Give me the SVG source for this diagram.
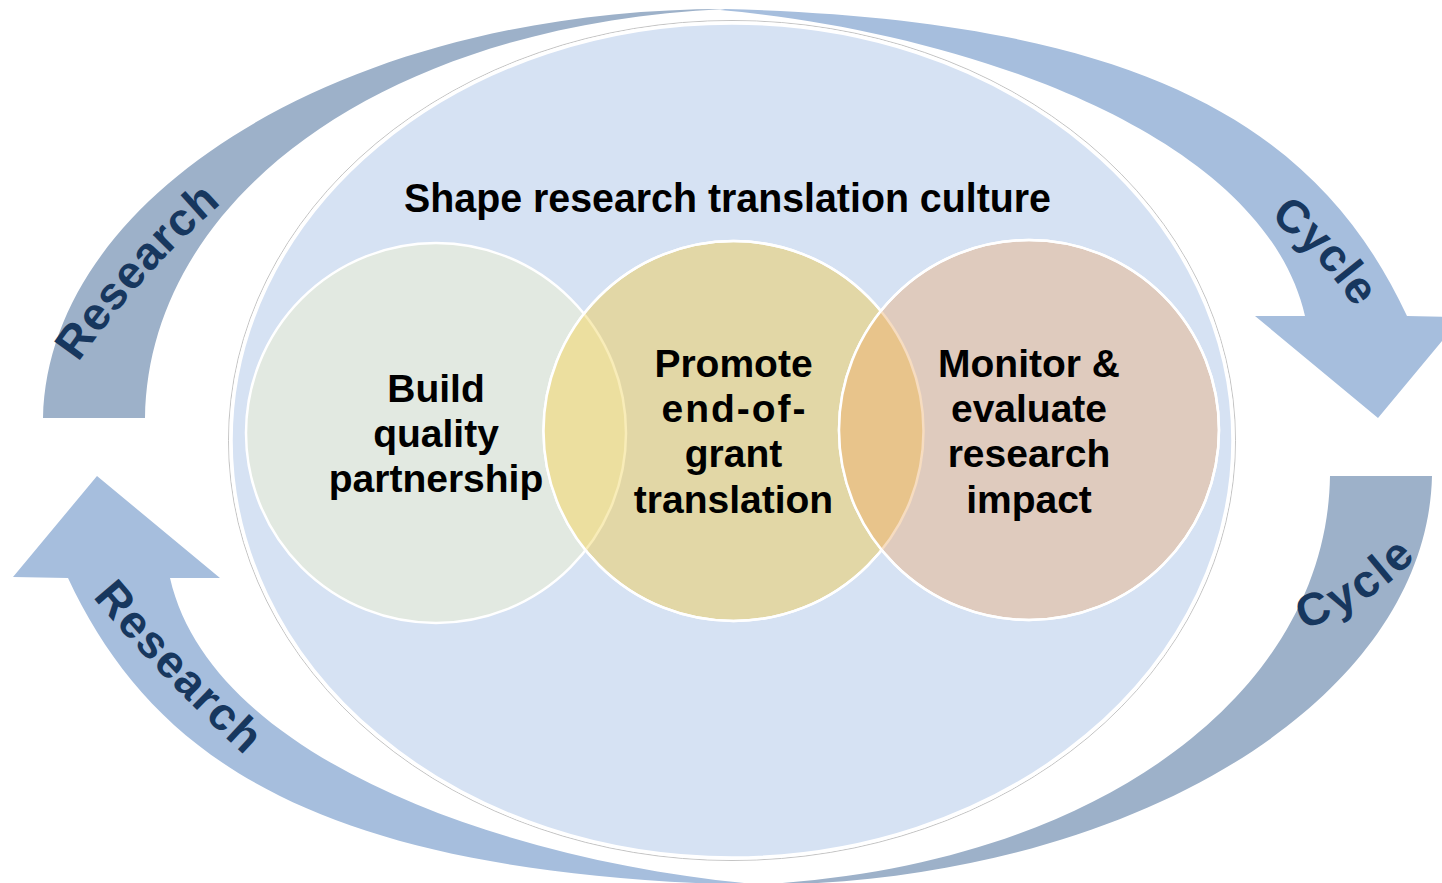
<svg xmlns="http://www.w3.org/2000/svg" width="1442" height="883" viewBox="0 0 1442 883">
<style>
.dark{fill:#9db1c9}
.light{fill:#a6bedd}
.lbl{font-family:"Liberation Sans",Arial,sans-serif;font-weight:bold;font-size:46px;fill:#17375e;dominant-baseline:central}
.node{font-family:"Liberation Sans",Arial,sans-serif;font-weight:bold;font-size:39px;fill:#000;text-anchor:middle}
.title{font-family:"Liberation Sans",Arial,sans-serif;font-weight:bold;font-size:41px;fill:#000;text-anchor:middle}
.ring{fill:none;stroke:#fff;stroke-width:2.5}
</style>
<defs>
<clipPath id="clipL"><circle cx="436" cy="433" r="190"/></clipPath>
<clipPath id="clipM"><circle cx="733.5" cy="431" r="190"/></clipPath>
<clipPath id="clipR"><circle cx="1029" cy="430" r="190"/></clipPath>
<path id="tpTL" d="M23,420 Q117,256 275,140"/>
<path id="tpTR" d="M1249,188 Q1338,236 1387,332"/>
<path id="tpBL" d="M60,530 Q165,670 320,800"/>
<path id="tpBR" d="M1257,625 Q1370,603 1427,517"/>
</defs>
<rect width="1442" height="883" fill="#fff"/>

<g id="connectors">
  <g id="arrow-top">
    <path class="dark" d="M43,418 C48,192 349,9 725,9 C380,25 148,200 145,418 Z"/>
    <path class="light" d="M720,10 C950,30 1262,128 1305,316 L1255,316 L1378,418 L1462,317 L1407,316 C1320,130 1150,20 725,9 Z"/>
  </g>
  <g id="arrow-bottom" transform="rotate(180 737.5 447)">
    <path class="dark" d="M43,418 C48,192 349,9 725,9 C380,25 148,200 145,418 Z"/>
    <path class="light" d="M720,10 C950,30 1262,128 1305,316 L1255,316 L1378,418 L1462,317 L1407,316 C1320,130 1150,20 725,9 Z"/>
  </g>
  <text class="lbl"><textPath href="#tpTL" startOffset="188" text-anchor="middle" textLength="218" lengthAdjust="spacing">Research</textPath></text>
  <text class="lbl"><textPath href="#tpTR" startOffset="100" text-anchor="middle" textLength="129" lengthAdjust="spacing">Cycle</textPath></text>
  <text class="lbl"><textPath href="#tpBL" startOffset="181" text-anchor="middle" textLength="218" lengthAdjust="spacing">Research</textPath></text>
  <text class="lbl"><textPath href="#tpBR" startOffset="106" text-anchor="middle" textLength="129" lengthAdjust="spacing">Cycle</textPath></text>
</g>

<g id="culture">
  <ellipse cx="732" cy="440.5" rx="503.5" ry="420" fill="none" stroke="#c4c4c4" stroke-width="1"/>
  <ellipse cx="732" cy="440.5" rx="501" ry="417.5" fill="#d6e2f3" stroke="#fff" stroke-width="3.5"/>
  <text class="title" x="727.5" y="212" textLength="647" lengthAdjust="spacingAndGlyphs">Shape research translation culture</text>
</g>

<g id="partnership">
  <circle cx="436" cy="433" r="190" fill="#e2e9e1" class="ring" style="fill:#e2e9e1"/>
</g>

<g id="end-of-grant">
  <circle cx="733.5" cy="431" r="190" style="fill:#e2d7a6" class="ring"/>
  <circle cx="436" cy="433" r="190" clip-path="url(#clipM)" style="fill:#ecdf9f;stroke:#f8ecb8;stroke-width:2.5"/>
  <circle cx="733.5" cy="431" r="190" class="ring"/>
</g>

<g id="monitor">
  <circle cx="1029" cy="430" r="190" style="fill:#dfcbbe" class="ring"/>
  <circle cx="733.5" cy="431" r="190" clip-path="url(#clipR)" style="fill:#e8c48b;stroke:#f6dcc0;stroke-width:2.5"/>
  <circle cx="1029" cy="430" r="190" class="ring"/>
</g>

<g id="labels">
  <text class="node" x="436" y="402">Build</text>
  <text class="node" x="436" y="447">quality</text>
  <text class="node" x="436" y="492">partnership</text>
  <text class="node" x="733.5" y="377">Promote</text>
  <text class="node" x="733.5" y="422" textLength="144" lengthAdjust="spacing">end-of-</text>
  <text class="node" x="733.5" y="467">grant</text>
  <text class="node" x="733.5" y="513">translation</text>
  <text class="node" x="1029" y="377">Monitor &amp;</text>
  <text class="node" x="1029" y="422">evaluate</text>
  <text class="node" x="1029" y="467">research</text>
  <text class="node" x="1029" y="513">impact</text>
</g>
</svg>
